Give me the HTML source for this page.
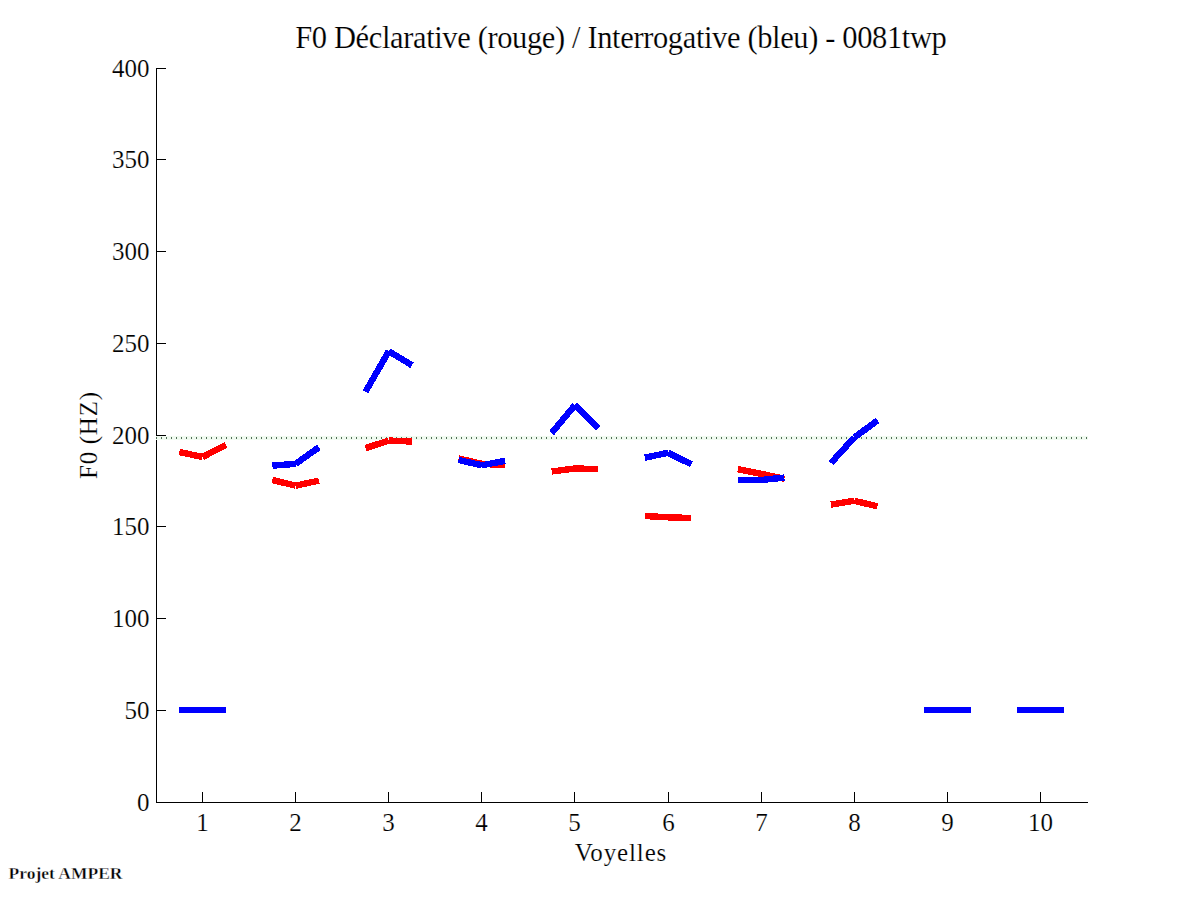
<!DOCTYPE html>
<html><head><meta charset="utf-8"><style>
html,body{margin:0;padding:0;background:#fff;overflow:hidden}
svg{display:block}
text{font-family:"Liberation Serif",serif;fill:#000;stroke:#fff;stroke-width:0.18px}
.t{font-size:25px}
.title{font-size:30.5px}
.xl{font-size:25px}
.yl{font-size:25px}
.amp{font-size:17.5px;font-weight:bold;stroke-width:0.35px}
</style></head><body>
<svg width="1201" height="901" viewBox="0 0 1201 901">
<rect width="1201" height="901" fill="#fff"/>
<path d="M156.5,68 V802.5 H1088" fill="none" stroke="#000" stroke-width="1" shape-rendering="crispEdges"/>
<path d="M157,802.5 H166 M157,710.5 H166 M157,618.5 H166 M157,526.5 H166 M157,435.5 H166 M157,343.5 H166 M157,251.5 H166 M157,159.5 H166 M157,68.5 H166 M202.5,792 V802 M295.5,792 V802 M388.5,792 V802 M481.5,792 V802 M574.5,792 V802 M668.5,792 V802 M761.5,792 V802 M854.5,792 V802 M947.5,792 V802 M1040.5,792 V802" fill="none" stroke="#000" stroke-width="1" shape-rendering="crispEdges"/>
<text x="149.5" y="810.5" text-anchor="end" class="t">0</text>
<text x="149.5" y="718.5" text-anchor="end" class="t">50</text>
<text x="149.5" y="626.5" text-anchor="end" class="t">100</text>
<text x="149.5" y="534.5" text-anchor="end" class="t">150</text>
<text x="149.5" y="443.5" text-anchor="end" class="t">200</text>
<text x="149.5" y="351.5" text-anchor="end" class="t">250</text>
<text x="149.5" y="259.5" text-anchor="end" class="t">300</text>
<text x="149.5" y="167.5" text-anchor="end" class="t">350</text>
<text x="149.5" y="76.5" text-anchor="end" class="t">400</text>
<text x="202.5" y="831" text-anchor="middle" class="t">1</text>
<text x="295.5" y="831" text-anchor="middle" class="t">2</text>
<text x="388.5" y="831" text-anchor="middle" class="t">3</text>
<text x="481.5" y="831" text-anchor="middle" class="t">4</text>
<text x="574.5" y="831" text-anchor="middle" class="t">5</text>
<text x="668.5" y="831" text-anchor="middle" class="t">6</text>
<text x="761.5" y="831" text-anchor="middle" class="t">7</text>
<text x="854.5" y="831" text-anchor="middle" class="t">8</text>
<text x="947.5" y="831" text-anchor="middle" class="t">9</text>
<text x="1040.5" y="831" text-anchor="middle" class="t">10</text>
<rect x="156" y="436" width="932" height="4" fill="#f0faf0"/>
<path d="M156,437 h1 v2 h-1z M161,437 h1 v2 h-1z M166,437 h1 v2 h-1z M171,437 h1 v2 h-1z M176,437 h1 v2 h-1z M181,437 h1 v2 h-1z M186,437 h1 v2 h-1z M191,437 h1 v2 h-1z M196,437 h1 v2 h-1z M201,437 h1 v2 h-1z M206,437 h1 v2 h-1z M211,437 h1 v2 h-1z M216,437 h1 v2 h-1z M221,437 h1 v2 h-1z M226,437 h1 v2 h-1z M231,437 h1 v2 h-1z M236,437 h1 v2 h-1z M241,437 h1 v2 h-1z M246,437 h1 v2 h-1z M251,437 h1 v2 h-1z M256,437 h1 v2 h-1z M261,437 h1 v2 h-1z M266,437 h1 v2 h-1z M271,437 h1 v2 h-1z M276,437 h1 v2 h-1z M281,437 h1 v2 h-1z M286,437 h1 v2 h-1z M291,437 h1 v2 h-1z M296,437 h1 v2 h-1z M301,437 h1 v2 h-1z M306,437 h1 v2 h-1z M311,437 h1 v2 h-1z M316,437 h1 v2 h-1z M321,437 h1 v2 h-1z M326,437 h1 v2 h-1z M331,437 h1 v2 h-1z M336,437 h1 v2 h-1z M341,437 h1 v2 h-1z M346,437 h1 v2 h-1z M351,437 h1 v2 h-1z M356,437 h1 v2 h-1z M361,437 h1 v2 h-1z M366,437 h1 v2 h-1z M371,437 h1 v2 h-1z M376,437 h1 v2 h-1z M381,437 h1 v2 h-1z M386,437 h1 v2 h-1z M391,437 h1 v2 h-1z M396,437 h1 v2 h-1z M401,437 h1 v2 h-1z M406,437 h1 v2 h-1z M411,437 h1 v2 h-1z M416,437 h1 v2 h-1z M421,437 h1 v2 h-1z M426,437 h1 v2 h-1z M431,437 h1 v2 h-1z M436,437 h1 v2 h-1z M441,437 h1 v2 h-1z M446,437 h1 v2 h-1z M451,437 h1 v2 h-1z M456,437 h1 v2 h-1z M461,437 h1 v2 h-1z M466,437 h1 v2 h-1z M471,437 h1 v2 h-1z M476,437 h1 v2 h-1z M481,437 h1 v2 h-1z M486,437 h1 v2 h-1z M491,437 h1 v2 h-1z M496,437 h1 v2 h-1z M501,437 h1 v2 h-1z M506,437 h1 v2 h-1z M511,437 h1 v2 h-1z M516,437 h1 v2 h-1z M521,437 h1 v2 h-1z M526,437 h1 v2 h-1z M531,437 h1 v2 h-1z M536,437 h1 v2 h-1z M541,437 h1 v2 h-1z M546,437 h1 v2 h-1z M551,437 h1 v2 h-1z M556,437 h1 v2 h-1z M561,437 h1 v2 h-1z M566,437 h1 v2 h-1z M571,437 h1 v2 h-1z M576,437 h1 v2 h-1z M581,437 h1 v2 h-1z M586,437 h1 v2 h-1z M591,437 h1 v2 h-1z M596,437 h1 v2 h-1z M601,437 h1 v2 h-1z M606,437 h1 v2 h-1z M611,437 h1 v2 h-1z M616,437 h1 v2 h-1z M621,437 h1 v2 h-1z M626,437 h1 v2 h-1z M631,437 h1 v2 h-1z M636,437 h1 v2 h-1z M641,437 h1 v2 h-1z M646,437 h1 v2 h-1z M651,437 h1 v2 h-1z M656,437 h1 v2 h-1z M661,437 h1 v2 h-1z M666,437 h1 v2 h-1z M671,437 h1 v2 h-1z M676,437 h1 v2 h-1z M681,437 h1 v2 h-1z M686,437 h1 v2 h-1z M691,437 h1 v2 h-1z M696,437 h1 v2 h-1z M701,437 h1 v2 h-1z M706,437 h1 v2 h-1z M711,437 h1 v2 h-1z M716,437 h1 v2 h-1z M721,437 h1 v2 h-1z M726,437 h1 v2 h-1z M731,437 h1 v2 h-1z M736,437 h1 v2 h-1z M741,437 h1 v2 h-1z M746,437 h1 v2 h-1z M751,437 h1 v2 h-1z M756,437 h1 v2 h-1z M761,437 h1 v2 h-1z M766,437 h1 v2 h-1z M771,437 h1 v2 h-1z M776,437 h1 v2 h-1z M781,437 h1 v2 h-1z M786,437 h1 v2 h-1z M791,437 h1 v2 h-1z M796,437 h1 v2 h-1z M801,437 h1 v2 h-1z M806,437 h1 v2 h-1z M811,437 h1 v2 h-1z M816,437 h1 v2 h-1z M821,437 h1 v2 h-1z M826,437 h1 v2 h-1z M831,437 h1 v2 h-1z M836,437 h1 v2 h-1z M841,437 h1 v2 h-1z M846,437 h1 v2 h-1z M851,437 h1 v2 h-1z M856,437 h1 v2 h-1z M861,437 h1 v2 h-1z M866,437 h1 v2 h-1z M871,437 h1 v2 h-1z M876,437 h1 v2 h-1z M881,437 h1 v2 h-1z M886,437 h1 v2 h-1z M891,437 h1 v2 h-1z M896,437 h1 v2 h-1z M901,437 h1 v2 h-1z M906,437 h1 v2 h-1z M911,437 h1 v2 h-1z M916,437 h1 v2 h-1z M921,437 h1 v2 h-1z M926,437 h1 v2 h-1z M931,437 h1 v2 h-1z M936,437 h1 v2 h-1z M941,437 h1 v2 h-1z M946,437 h1 v2 h-1z M951,437 h1 v2 h-1z M956,437 h1 v2 h-1z M961,437 h1 v2 h-1z M966,437 h1 v2 h-1z M971,437 h1 v2 h-1z M976,437 h1 v2 h-1z M981,437 h1 v2 h-1z M986,437 h1 v2 h-1z M991,437 h1 v2 h-1z M996,437 h1 v2 h-1z M1001,437 h1 v2 h-1z M1006,437 h1 v2 h-1z M1011,437 h1 v2 h-1z M1016,437 h1 v2 h-1z M1021,437 h1 v2 h-1z M1026,437 h1 v2 h-1z M1031,437 h1 v2 h-1z M1036,437 h1 v2 h-1z M1041,437 h1 v2 h-1z M1046,437 h1 v2 h-1z M1051,437 h1 v2 h-1z M1056,437 h1 v2 h-1z M1061,437 h1 v2 h-1z M1066,437 h1 v2 h-1z M1071,437 h1 v2 h-1z M1076,437 h1 v2 h-1z M1081,437 h1 v2 h-1z M1086,437 h1 v2 h-1z" fill="#506e55" shape-rendering="crispEdges"/>
<path d="M179.28,452.00L202.55,457.00M202.55,457.00L225.83,445.00" fill="none" stroke="#ff0000" stroke-width="6.4" stroke-linecap="butt" shape-rendering="crispEdges"/>
<path d="M272.38,480.00L295.65,485.70M295.65,485.70L318.92,480.60" fill="none" stroke="#ff0000" stroke-width="6.4" stroke-linecap="butt" shape-rendering="crispEdges"/>
<path d="M365.48,448.20L388.75,440.50M388.75,440.50L412.02,441.60" fill="none" stroke="#ff0000" stroke-width="6.4" stroke-linecap="butt" shape-rendering="crispEdges"/>
<path d="M458.57,458.50L481.85,463.80M481.85,463.80L505.12,465.30" fill="none" stroke="#ff0000" stroke-width="6.4" stroke-linecap="butt" shape-rendering="crispEdges"/>
<path d="M551.68,471.50L574.95,468.50M574.95,468.50L598.23,469.00" fill="none" stroke="#ff0000" stroke-width="6.4" stroke-linecap="butt" shape-rendering="crispEdges"/>
<path d="M644.77,516.00L668.05,517.30M668.05,517.30L691.32,518.00" fill="none" stroke="#ff0000" stroke-width="6.4" stroke-linecap="butt" shape-rendering="crispEdges"/>
<path d="M737.88,469.20L761.15,473.80M761.15,473.80L784.42,478.80" fill="none" stroke="#ff0000" stroke-width="6.4" stroke-linecap="butt" shape-rendering="crispEdges"/>
<path d="M830.98,504.60L854.25,500.80M854.25,500.80L877.52,506.30" fill="none" stroke="#ff0000" stroke-width="6.4" stroke-linecap="butt" shape-rendering="crispEdges"/>
<path d="M179.28,710.00L202.55,710.00M202.55,710.00L225.83,710.00" fill="none" stroke="#0000ff" stroke-width="6.4" stroke-linecap="butt" shape-rendering="crispEdges"/>
<path d="M272.38,465.70L295.65,463.80M295.65,463.80L318.92,447.30" fill="none" stroke="#0000ff" stroke-width="6.4" stroke-linecap="butt" shape-rendering="crispEdges"/>
<path d="M365.48,391.80L388.75,351.20M388.75,351.20L412.02,365.30" fill="none" stroke="#0000ff" stroke-width="6.4" stroke-linecap="butt" shape-rendering="crispEdges"/>
<path d="M458.57,460.00L481.85,465.30M481.85,465.30L505.12,460.80" fill="none" stroke="#0000ff" stroke-width="6.4" stroke-linecap="butt" shape-rendering="crispEdges"/>
<path d="M551.68,433.00L574.95,405.00M574.95,405.00L598.23,428.00" fill="none" stroke="#0000ff" stroke-width="6.4" stroke-linecap="butt" shape-rendering="crispEdges"/>
<path d="M644.77,457.70L668.05,452.80M668.05,452.80L691.32,464.30" fill="none" stroke="#0000ff" stroke-width="6.4" stroke-linecap="butt" shape-rendering="crispEdges"/>
<path d="M737.88,480.20L761.15,480.00M761.15,480.00L784.42,477.60" fill="none" stroke="#0000ff" stroke-width="6.4" stroke-linecap="butt" shape-rendering="crispEdges"/>
<path d="M830.98,463.00L854.25,437.50M854.25,437.50L877.52,420.50" fill="none" stroke="#0000ff" stroke-width="6.4" stroke-linecap="butt" shape-rendering="crispEdges"/>
<path d="M924.07,710.00L947.35,710.00M947.35,710.00L970.62,710.00" fill="none" stroke="#0000ff" stroke-width="6.4" stroke-linecap="butt" shape-rendering="crispEdges"/>
<path d="M1017.17,710.00L1040.45,710.00M1040.45,710.00L1063.72,710.00" fill="none" stroke="#0000ff" stroke-width="6.4" stroke-linecap="butt" shape-rendering="crispEdges"/>
<text x="621" y="47.7" text-anchor="middle" class="title" textLength="651.6" lengthAdjust="spacing">F0 Déclarative (rouge) / Interrogative (bleu) - 0081twp</text>
<text x="620.5" y="861" text-anchor="middle" class="xl" textLength="91.7" lengthAdjust="spacing">Voyelles</text>
<text transform="translate(97,435.5) rotate(-90)" text-anchor="middle" class="yl" textLength="87" lengthAdjust="spacing">F0 (HZ)</text>
<text x="8.5" y="879" class="amp" textLength="114" lengthAdjust="spacing">Projet AMPER</text>
</svg>
</body></html>
